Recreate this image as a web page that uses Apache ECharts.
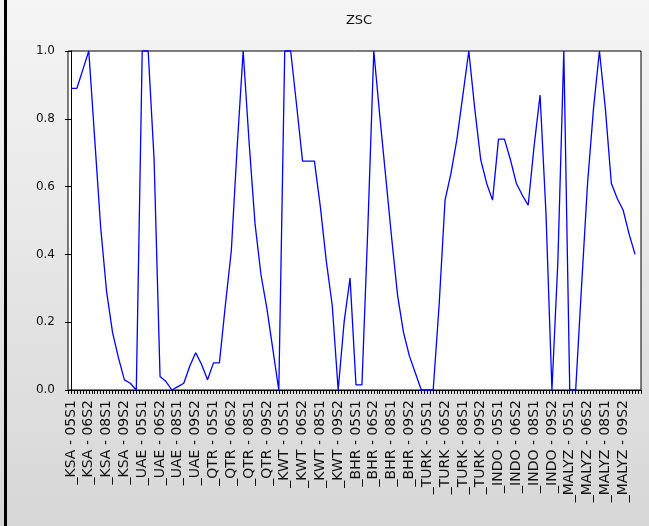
<!DOCTYPE html>
<html>
<head>
<meta charset="utf-8">
<title>ZSC</title>
<script src="https://cdn.jsdelivr.net/npm/echarts@6/dist/echarts.min.js"></script>
<style>
  html, body { margin: 0; padding: 0; }
  #chart { width: 649px; height: 526px; }
</style>
</head>
<body>
<div id="chart"></div>
<script>
// Panel members and semester periods (12 per member)
const countries = ['KSA', 'UAE', 'QTR', 'KWT', 'BHR', 'TURK', 'INDO', 'MALYZ'];
const periods = ['05S1', '05S2', '06S1', '06S2', '07S1', '07S2', '08S1', '08S2', '09S1', '09S2', '10S1', '10S2'];

// ZSC values per member, in period order
const zscKSA   = [0.89, 0.89, 0.945, 1.0, 0.74, 0.48, 0.29, 0.17, 0.095, 0.03, 0.02, 0.0];
const zscUAE   = [1.0, 1.0, 0.68, 0.04, 0.025, 0.0, 0.01, 0.02, 0.07, 0.11, 0.075, 0.03];
const zscQTR   = [0.08, 0.08, 0.25, 0.41, 0.72, 1.0, 0.73, 0.49, 0.34, 0.24, 0.12, 0.0];
const zscKWT   = [1.0, 1.0, 0.84, 0.675, 0.675, 0.675, 0.54, 0.38, 0.25, 0.0, 0.2, 0.33];
const zscBHR   = [0.015, 0.015, 0.48, 1.0, 0.81, 0.63, 0.45, 0.28, 0.17, 0.10, 0.05, 0.0];
const zscTURK  = [0.0, 0.0, 0.25, 0.56, 0.64, 0.74, 0.87, 1.0, 0.83, 0.68, 0.61, 0.56];
const zscINDO  = [0.74, 0.74, 0.68, 0.61, 0.575, 0.545, 0.72, 0.87, 0.52, 0.0, 0.38, 1.0];
const zscMALYZ = [0.0, 0.0, 0.31, 0.61, 0.83, 1.0, 0.83, 0.61, 0.565, 0.53, 0.46, 0.40];

const yTicks = [0.0, 0.2, 0.4, 0.6, 0.8, 1.0];
const labelEvery = 3;

// Observation labels like "_KSA - 05S1"
const obsLabels = [];
countries.forEach(c => periods.forEach(p => obsLabels.push('_' + c + ' - ' + p)));

const allValues = [].concat(zscKSA, zscUAE, zscQTR, zscKWT, zscBHR, zscTURK, zscINDO, zscMALYZ);
const seriesData = allValues.map((v, i) => [i, v]);

const chart = echarts.init(document.getElementById('chart'), null, { renderer: 'canvas' });

chart.setOption({
  animation: false,
  backgroundColor: {
    type: 'linear', x: 0, y: 0, x2: 0, y2: 1,
    colorStops: [
      { offset: 0, color: '#f5f5f5' },
      { offset: 1, color: '#d7d7d7' }
    ]
  },
  title: {
    text: 'ZSC',
    left: 354,
    top: 9,
    textAlign: 'center',
    textStyle: { fontFamily: 'DejaVu Sans', fontSize: 13, fontWeight: 'normal', color: '#111' }
  },
  graphic: [
    { type: 'rect', shape: { x: 4, y: 0, width: 3, height: 526 }, style: { fill: '#000' }, silent: true }
  ],
  grid: {
    left: 68, top: 51, right: 8, bottom: 136,
    show: true,
    backgroundColor: '#ffffff',
    borderColor: '#000',
    borderWidth: 1
  },
  xAxis: {
    type: 'value',
    min: -0.5,
    max: obsLabels.length,
    interval: 0.5,
    splitLine: { show: false },
    axisLine: { show: true, onZero: false, lineStyle: { color: '#000', width: 1 } },
    axisTick: { show: true, inside: false, length: 4, lineStyle: { color: '#000', width: 1 } },
    axisLabel: {
      rotate: 90,
      margin: 10,
      fontFamily: 'DejaVu Sans',
      fontSize: 14,
      color: '#111',
      showMinLabel: true,
      showMaxLabel: true,
      formatter: function (v) {
        const r = Math.round(v);
        if (Math.abs(v - r) > 1e-6 || r < 0 || r >= obsLabels.length) return '';
        return r % labelEvery === 0 ? obsLabels[r] : '';
      }
    }
  },
  yAxis: {
    type: 'value',
    min: 0,
    max: 1,
    interval: 0.2,
    splitLine: { show: false },
    axisLine: { show: true, lineStyle: { color: '#000', width: 1 } },
    axisTick: { show: true, inside: false, length: 6, lineStyle: { color: '#000', width: 1 } },
    axisLabel: {
      margin: 13,
      fontFamily: 'DejaVu Sans',
      fontSize: 12,
      color: '#111',
      formatter: function (v) {
        const hit = yTicks.find(t => Math.abs(t - v) < 1e-6);
        return hit === undefined ? '' : hit.toFixed(1);
      }
    }
  },
  series: [{
    type: 'line',
    data: seriesData,
    showSymbol: false,
    clip: false,
    lineStyle: { color: '#0000ff', width: 1.3 }
  }]
});
</script>
</body>
</html>
